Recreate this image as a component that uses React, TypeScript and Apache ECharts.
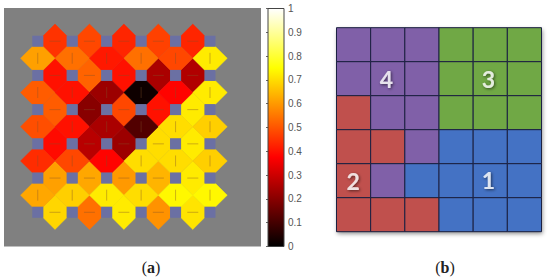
import React, { useEffect, useRef } from "react";
import * as echarts from "echarts";

// Panel (a): neighbour distances. Rows run top to bottom.
const horizontalEdges = [
  [0.45, 0.48, 0.43, 0.47, 0.43],
  [0.4, 0.52, 0.4, 0.25, 0.26],
  [0.51, 0.2, 0.48, 0.4, 0.72],
  [0.39, 0.27, 0.23, 0.7, 0.72],
  [0.61, 0.62, 0.6, 0.64, 0.72],
  [0.69, 0.54, 0.72, 0.59, 0.71],
];
const verticalEdges = [
  [0.61, 0.54, 0.41, 0.54, 0.48, 0.72],
  [0.51, 0.4, 0.23, 0.02, 0.38, 0.72],
  [0.49, 0.4, 0.25, 0.12, 0.7, 0.68],
  [0.44, 0.48, 0.38, 0.7, 0.7, 0.68],
  [0.62, 0.68, 0.72, 0.7, 0.74, 0.74],
];
const hotColors = ["#000000", "#550000", "#aa0000", "#ff0000", "#ff5500", "#ffaa00", "#ffff00", "#ffff80", "#ffffff"];

// Panel (b): cluster of each cell.
const clusterGrid = [
  [4, 4, 4, 3, 3, 3],
  [4, 4, 4, 3, 3, 3],
  [2, 4, 4, 3, 3, 3],
  [2, 2, 4, 1, 1, 1],
  [2, 4, 1, 1, 1, 1],
  [2, 2, 2, 1, 1, 1],
];
const clusterColors: Record<number, string> = { 1: "#4472c4", 2: "#c0504d", 3: "#70a845", 4: "#8060a8" };
const clusterLabels = [
  { name: "4", cell: [1.46, 1.52] },
  { name: "3", cell: [4.45, 1.52] },
  { name: "2", cell: [0.49, 4.5] },
  { name: "1", cell: [4.45, 4.48] },
];
const captions = ["a", "b"];

export default function App() {
  const ref = useRef<HTMLDivElement>(null);
  useEffect(() => {
    const chart = echarts.init(ref.current!, undefined, { renderer: "svg" });

    const edges: number[][] = [];
    horizontalEdges.forEach((row, r) => row.forEach((v, c) => edges.push([c + 0.5, r, v, 0])));
    verticalEdges.forEach((row, r) => row.forEach((v, c) => edges.push([c, r + 0.5, v, 1])));
    const nodes: number[][] = [];
    for (let r = 0; r < 6; r++) for (let c = 0; c < 6; c++) nodes.push([c, r]);
    const cells: number[][] = [];
    clusterGrid.forEach((row, r) => row.forEach((k, c) => cells.push([c, r, k])));

    const S = 0.16;
    const L = 0.34;
    const renderEdge = (_: any, api: any) => {
      const x = api.value(0);
      const y = api.value(1);
      const horiz = api.value(3) === 0;
      const raw = horiz
        ? [[-L, -S], [0, -0.5], [L, -S], [L, S], [0, 0.5], [-L, S]]
        : [[-S, -L], [S, -L], [0.5, 0], [S, L], [-S, L], [-0.5, 0]];
      const pts = raw.map(([dx, dy]) => api.coord([x + dx, y + dy]));
      const color = api.visual("color");
      const a = horiz ? api.coord([x - S, y]) : api.coord([x, y - S]);
      const b = horiz ? api.coord([x + S, y]) : api.coord([x, y + S]);
      return {
        type: "group",
        children: [
          { type: "polygon", shape: { points: pts }, style: { fill: color, stroke: color, lineWidth: 0.5 } },
          {
            type: "line",
            shape: { x1: a[0], y1: a[1], x2: b[0], y2: b[1] },
            style: { stroke: "rgba(130,80,40,0.4)", lineWidth: 1 },
          },
        ],
      };
    };
    const renderCell = (_: any, api: any) => {
      const p = api.coord([api.value(0), api.value(1)]);
      const q = api.coord([api.value(0) + 1, api.value(1) + 1]);
      return {
        type: "rect",
        shape: { x: p[0], y: p[1], width: q[0] - p[0], height: q[1] - p[1] },
        style: { fill: clusterColors[api.value(2)], stroke: "#1c2142", lineWidth: 1 },
      };
    };
    const renderBar = (_: any, api: any) => {
      const p = api.coord([0, 1]);
      const q = api.coord([1, 0]);
      return {
        type: "rect",
        shape: { x: p[0], y: p[1], width: q[0] - p[0], height: q[1] - p[1] },
        style: {
          fill: new echarts.graphic.LinearGradient(
            0, 1, 0, 0,
            hotColors.map((color, i) => ({ offset: i / (hotColors.length - 1), color }))
          ),
          stroke: "#444",
          lineWidth: 1,
        },
      };
    };
    const hidden = { show: false };
    chart.setOption({
      animation: false,
      backgroundColor: "#ffffff",
      title: captions.map((c, i) => ({
        text: `{n|(}{b|${c}}{n|)}`,
        left: i === 0 ? 146 : 440,
        top: 254,
        textAlign: "center",
        textStyle: {
          fontWeight: "normal",
          rich: {
            n: { fontFamily: "Liberation Serif", fontSize: 16, fontWeight: "normal", color: "#222" },
            b: { fontFamily: "Liberation Serif", fontSize: 16, fontWeight: "bold", color: "#222" },
          },
        },
      })),
      visualMap: {
        show: false,
        type: "continuous",
        min: 0,
        max: 1,
        dimension: 2,
        seriesIndex: 0,
        inRange: { color: hotColors },
      },
      grid: [
        { left: 4, top: 8, width: 257, height: 238.5, show: true, backgroundColor: "#808080", borderWidth: 0 },
        { left: 268, top: 8.5, width: 16, height: 238, show: false },
        {
          left: 336.5, top: 27.7, width: 205, height: 204, show: true, backgroundColor: "#666",
          borderWidth: 0, shadowColor: "rgba(0,0,0,0.45)", shadowBlur: 4, shadowOffsetX: 1, shadowOffsetY: 2,
        },
      ],
      xAxis: [
        { type: "value", gridIndex: 0, min: -0.98, max: 6.48, ...hidden },
        { type: "value", gridIndex: 1, min: 0, max: 1, ...hidden },
        { type: "value", gridIndex: 2, min: 0, max: 6, ...hidden },
      ],
      yAxis: [
        { type: "value", gridIndex: 0, min: -0.97, max: 6, inverse: true, ...hidden },
        {
          type: "value", gridIndex: 1, min: 0, max: 1, interval: 0.1, position: "right",
          axisLine: { show: false },
          axisTick: { show: true, inside: true, length: 2, lineStyle: { color: "#666" } },
          splitLine: { show: false },
          axisLabel: { color: "#555", fontSize: 10, fontFamily: "Liberation Sans", margin: 4 },
        },
        { type: "value", gridIndex: 2, min: 0, max: 6, inverse: true, ...hidden },
      ],
      series: [
        {
          type: "custom", xAxisIndex: 0, yAxisIndex: 0, coordinateSystem: "cartesian2d", data: edges,
          renderItem: renderEdge, encode: { x: 0, y: 1 }, silent: true, clip: false,
        },
        {
          type: "scatter", xAxisIndex: 0, yAxisIndex: 0, data: nodes, symbol: "rect", symbolSize: 11,
          itemStyle: { color: "#6b70a3", opacity: 1 }, silent: true,
        },
        {
          type: "custom", xAxisIndex: 1, yAxisIndex: 1, coordinateSystem: "cartesian2d", data: [[0, 0]],
          renderItem: renderBar, silent: true,
        },
        {
          type: "custom", xAxisIndex: 2, yAxisIndex: 2, coordinateSystem: "cartesian2d", data: cells,
          renderItem: renderCell, encode: { x: 0, y: 1 }, silent: true,
        },
        {
          type: "scatter", xAxisIndex: 2, yAxisIndex: 2, symbolSize: 0, silent: true,
          data: clusterLabels.map((l) => ({ name: l.name, value: l.cell })),
          label: {
            show: true, position: "inside", formatter: "{b}", color: "#ffffff", fontSize: 23,
            fontWeight: "bold", fontFamily: "Lato",
            textShadowColor: "rgba(0,0,0,0.7)", textShadowBlur: 3, textShadowOffsetX: 1, textShadowOffsetY: 1,
          },
        },
      ],
    });
    return () => chart.dispose();
  }, []);
  return <div ref={ref} style={{ position: "absolute", left: 0, top: 0, width: 550, height: 280 }} />;
}
